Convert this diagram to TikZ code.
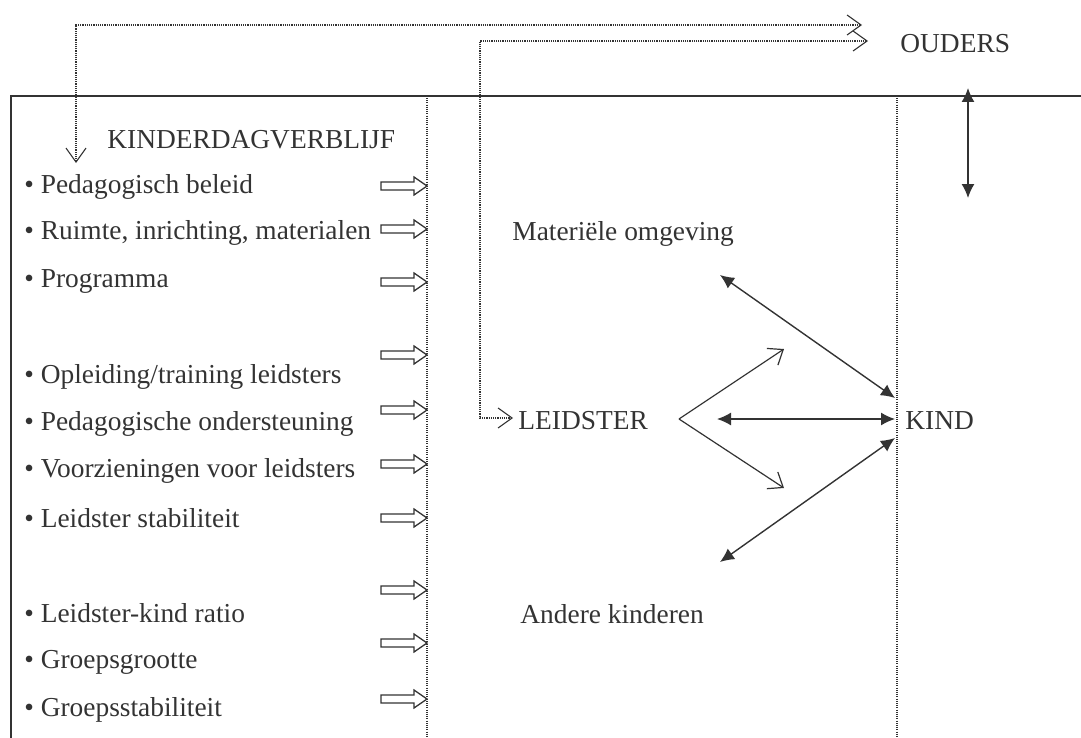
\documentclass[tikz,border=0pt]{standalone}
\usepackage{fontspec}
\setmainfont{Liberation Serif}
\usetikzlibrary{arrows.meta}
\definecolor{ink}{HTML}{333333}
\begin{document}
\begin{tikzpicture}[x=0.5pt,y=-0.5pt,
  lbl/.style={font=\fontsize{13.7}{16}\selectfont, text=ink, inner sep=0pt, anchor=west},
  item/.style={lbl},
  frame/.style={draw=ink, line width=0.75pt},
  sep/.style={draw=ink, line width=0.55pt, dash pattern=on 0.55pt off 0.55pt},
  dotarrow/.style={draw=ink, line width=0.55pt, dash pattern=on 0.55pt off 0.55pt, {Straight Barb[length=7pt,width=10pt,line width=0.55pt,sep=0pt]}-{Straight Barb[length=7pt,width=10pt,line width=0.55pt]}},
  chev/.style={draw=ink, line width=0.6pt, -{Straight Barb[length=6.5pt,width=10pt]}},
  dbl/.style={draw=ink, line width=0.7pt, {Latex[length=7pt,width=6.5pt]}-{Latex[length=7pt,width=6.5pt]}},
  hollow/.style={draw=ink, line width=0.65pt, fill=white}
]
\useasboundingbox (0,0) rectangle (1081,738);
% frame
\draw[frame] (11,738) -- (11,96) -- (1081,96);
\draw[sep] (427,98) -- (427,738);
\draw[sep] (897,98) -- (897,738);

% labels
\node[lbl] (kdv) at (107,140) {KINDERDAGVERBLIJF};
\node[lbl] (ouders) at (900,44) {OUDERS};
\node[lbl] (mat) at (512,234) {Materiële omgeving};
\node[lbl] (leid) at (518,421) {LEIDSTER};
\node[lbl] (kind) at (905,421) {KIND};
\node[lbl] (andere) at (520,614) {Andere kinderen};

% items
\foreach \t/\y [count=\i] in {{Pedagogisch beleid}/187, {Ruimte, inrichting, materialen}/233, {Programma}/281, {Opleiding/training leidsters}/377, {Pedagogische ondersteuning}/424, {Voorzieningen voor leidsters}/471, {Leidster stabiliteit}/518, {Leidster-kind ratio}/613, {Groepsgrootte}/662, {Groepsstabiliteit}/710}
  \node[item] (it\i) at (24,\y) {• \t};

% hollow arrows
\foreach \y [count=\i] in {186,229,282,355,410,464,518,590,643,699}
  \draw[hollow] (381,\y-4) -- (414,\y-4) -- (414,\y-9) -- (427,\y) -- (414,\y+9) -- (414,\y+4) -- (381,\y+4) -- cycle;

% coordinates
\coordinate (a1) at (76,163);
\coordinate (a2) at (76,25);
\coordinate (a3) at (862,25);
\coordinate (b1) at (868,41);
\coordinate (b2) at (480,41);
\coordinate (b3) at (480,418);
\coordinate (b4) at (513,418);
\draw[dotarrow] (a1) -- (a2) -- (a3);
\draw[dotarrow] (b1) -- (b2) -- (b3) -- (b4);

\coordinate (v1) at (968,88);
\coordinate (v2) at (968,198);
\draw[dbl] (v1) -- (v2);

\coordinate (m1) at (720,275);
\coordinate (m2) at (895,398);
\coordinate (c1) at (717,419);
\coordinate (c2) at (895,419);
\coordinate (l1) at (895,438);
\coordinate (l2) at (720,562);
\draw[dbl] (m1) -- (m2);
\draw[dbl] (c1) -- (c2);
\draw[dbl] (l1) -- (l2);

\coordinate (apex) at (679,419);
\coordinate (up) at (784,349);
\coordinate (dn) at (784,488);
\draw[chev] (apex) -- (up);
\draw[chev] (apex) -- (dn);
\end{tikzpicture}
\end{document}
